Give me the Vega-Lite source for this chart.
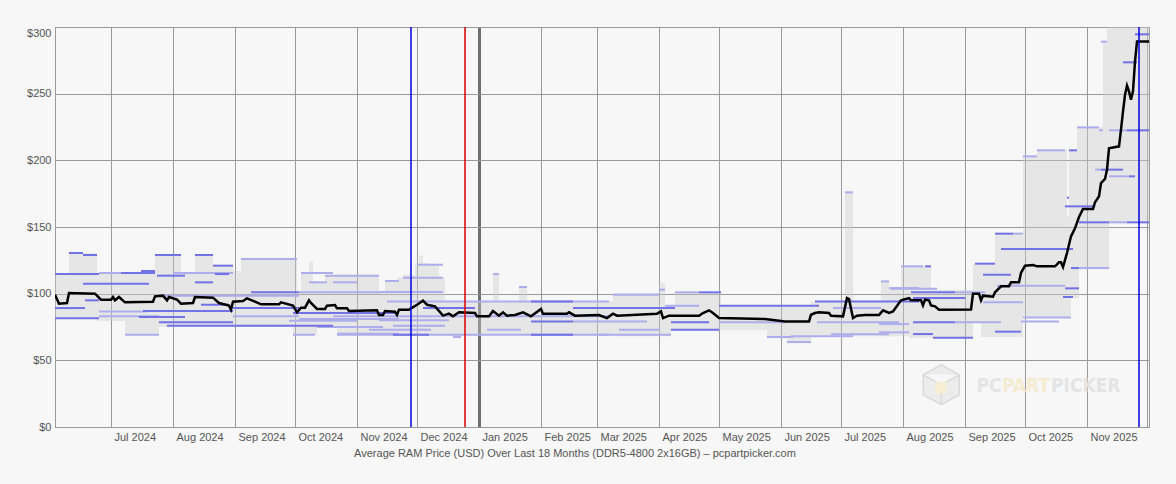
{
  "$schema": "https://vega.github.io/schema/vega-lite/v6.json",
  "width": 1094,
  "height": 400,
  "autosize": {"type": "none"},
  "padding": {"left": 55, "top": 27, "right": 27, "bottom": 57},
  "background": "#f7f7f7",
  "config": {
    "font": "Liberation Sans",
    "view": {"stroke": "#999999", "strokeWidth": 1},
    "axis": {"labelFont": "Liberation Sans", "titleFont": "Liberation Sans"},
    "axisX": {
      "titleFontSize": 11,
      "titleFontWeight": "normal",
      "titleColor": "#555555",
      "titleX": 519.5,
      "titleY": 29,
      "titleAlign": "center",
      "titleBaseline": "alphabetic",
      "format": "%b %Y",
      "formatType": "utc",
      "tickCount": {"interval": "month", "step": 1},
      "labelExpr": "utcyear(datum.value) == 2025 && utcmonth(datum.value) == 11 ? '' : datum.label",
      "labelAlign": "left",
      "labelBaseline": "top",
      "labelOffset": 3,
      "labelPadding": 4,
      "labelFontSize": 11,
      "labelColor": "#555555",
      "labelFlush": false,
      "labelOverlap": false,
      "ticks": false,
      "domainColor": "#999999",
      "grid": true,
      "gridColor": {"condition": {"test": "utcmonth(datum.value) == 0", "value": "#6e6e6e"}, "value": "#999999"},
      "gridWidth": {"condition": {"test": "utcmonth(datum.value) == 0", "value": 3}, "value": 1}
    },
    "axisY": {
      "format": "$.0f",
      "labelFontSize": 11,
      "labelColor": "#555555",
      "labelPadding": 4,
      "labelFlush": false,
      "labelBaseline": {"condition": {"test": "datum.value == 300", "value": "top"}, "value": "middle"},
      "ticks": false,
      "domainColor": "#999999",
      "grid": true,
      "gridColor": "#999999",
      "gridWidth": 1
    }
  },
  "datasets": {
    "range": [
      {"start": "2024-06-03", "end": "2024-06-10", "lo": 81, "hi": 115},
      {"start": "2024-06-10", "end": "2024-06-24", "lo": 81, "hi": 130.5},
      {"start": "2024-06-24", "end": "2024-07-08", "lo": 79.5, "hi": 115.5},
      {"start": "2024-07-08", "end": "2024-07-23", "lo": 69.2, "hi": 115.5},
      {"start": "2024-07-23", "end": "2024-07-25", "lo": 69.2, "hi": 129},
      {"start": "2024-07-25", "end": "2024-08-05", "lo": 75, "hi": 129},
      {"start": "2024-08-05", "end": "2024-08-12", "lo": 75, "hi": 115.5},
      {"start": "2024-08-12", "end": "2024-08-21", "lo": 75, "hi": 129},
      {"start": "2024-08-21", "end": "2024-08-31", "lo": 75, "hi": 121},
      {"start": "2024-08-31", "end": "2024-09-04", "lo": 75, "hi": 117},
      {"start": "2024-09-04", "end": "2024-09-30", "lo": 75, "hi": 126},
      {"start": "2024-09-30", "end": "2024-10-02", "lo": 69.2, "hi": 126},
      {"start": "2024-10-02", "end": "2024-10-04", "lo": 69.2, "hi": 101.7},
      {"start": "2024-10-04", "end": "2024-10-08", "lo": 69.2, "hi": 115.5},
      {"start": "2024-10-08", "end": "2024-10-10", "lo": 69.2, "hi": 124.2},
      {"start": "2024-10-10", "end": "2024-10-12", "lo": 69.2, "hi": 109},
      {"start": "2024-10-12", "end": "2024-10-16", "lo": 75, "hi": 109},
      {"start": "2024-10-16", "end": "2024-10-22", "lo": 75, "hi": 113.5},
      {"start": "2024-10-22", "end": "2024-11-12", "lo": 69.2, "hi": 113.5},
      {"start": "2024-11-12", "end": "2024-11-15", "lo": 69.2, "hi": 101.5},
      {"start": "2024-11-15", "end": "2024-11-21", "lo": 69.2, "hi": 109.2},
      {"start": "2024-11-21", "end": "2024-11-24", "lo": 69.2, "hi": 112.3},
      {"start": "2024-11-24", "end": "2024-11-30", "lo": 69.2, "hi": 114.2},
      {"start": "2024-11-30", "end": "2024-12-02", "lo": 69.2, "hi": 123},
      {"start": "2024-12-02", "end": "2024-12-04", "lo": 69.2, "hi": 128.5},
      {"start": "2024-12-04", "end": "2024-12-06", "lo": 69.2, "hi": 123},
      {"start": "2024-12-06", "end": "2024-12-12", "lo": 69.2, "hi": 121.7},
      {"start": "2024-12-12", "end": "2024-12-15", "lo": 69.2, "hi": 111.8},
      {"start": "2024-12-15", "end": "2024-12-19", "lo": 69.2, "hi": 94.5},
      {"start": "2024-12-19", "end": "2024-12-23", "lo": 67.5, "hi": 94.5},
      {"start": "2024-12-23", "end": "2025-01-08", "lo": 69.2, "hi": 94.5},
      {"start": "2025-01-08", "end": "2025-01-11", "lo": 69.2, "hi": 114.7},
      {"start": "2025-01-11", "end": "2025-01-21", "lo": 69.2, "hi": 94.5},
      {"start": "2025-01-21", "end": "2025-01-25", "lo": 69.2, "hi": 105.5},
      {"start": "2025-01-25", "end": "2025-03-09", "lo": 69.2, "hi": 94.5},
      {"start": "2025-03-09", "end": "2025-04-01", "lo": 68, "hi": 100.5},
      {"start": "2025-04-01", "end": "2025-04-04", "lo": 68, "hi": 108},
      {"start": "2025-04-04", "end": "2025-04-07", "lo": 68, "hi": 91},
      {"start": "2025-04-07", "end": "2025-04-09", "lo": 72.5, "hi": 91},
      {"start": "2025-04-09", "end": "2025-05-02", "lo": 72.5, "hi": 101},
      {"start": "2025-05-02", "end": "2025-05-25", "lo": 72.5, "hi": 91},
      {"start": "2025-05-25", "end": "2025-06-04", "lo": 66.7, "hi": 91},
      {"start": "2025-06-04", "end": "2025-06-16", "lo": 63.7, "hi": 91},
      {"start": "2025-06-16", "end": "2025-07-03", "lo": 68, "hi": 94.2},
      {"start": "2025-07-03", "end": "2025-07-07", "lo": 68, "hi": 176},
      {"start": "2025-07-07", "end": "2025-07-21", "lo": 68, "hi": 94.2},
      {"start": "2025-07-21", "end": "2025-07-25", "lo": 68, "hi": 109.2},
      {"start": "2025-07-25", "end": "2025-07-31", "lo": 68, "hi": 104.2},
      {"start": "2025-07-31", "end": "2025-08-04", "lo": 68, "hi": 120.5},
      {"start": "2025-08-04", "end": "2025-08-15", "lo": 66.7, "hi": 120.5},
      {"start": "2025-08-15", "end": "2025-09-05", "lo": 66.7, "hi": 103},
      {"start": "2025-09-05", "end": "2025-09-09", "lo": 79.2, "hi": 122.5},
      {"start": "2025-09-09", "end": "2025-09-16", "lo": 67.5, "hi": 122.5},
      {"start": "2025-09-16", "end": "2025-09-30", "lo": 67.5, "hi": 145.5},
      {"start": "2025-09-30", "end": "2025-10-07", "lo": 81.7, "hi": 203.5},
      {"start": "2025-10-07", "end": "2025-10-22", "lo": 81.7, "hi": 208},
      {"start": "2025-10-22", "end": "2025-10-23", "lo": 81.7, "hi": 158},
      {"start": "2025-10-23", "end": "2025-10-24", "lo": 81.7, "hi": 207.5},
      {"start": "2025-10-24", "end": "2025-10-27", "lo": 96.7, "hi": 207.5},
      {"start": "2025-10-27", "end": "2025-10-28", "lo": 96.7, "hi": 224.7},
      {"start": "2025-10-28", "end": "2025-11-09", "lo": 118.5, "hi": 224.7},
      {"start": "2025-11-09", "end": "2025-11-11", "lo": 118.5, "hi": 289},
      {"start": "2025-11-11", "end": "2025-11-12", "lo": 118.5, "hi": 300},
      {"start": "2025-11-12", "end": "2025-12-02", "lo": 153.5, "hi": 300}
    ],
    "offers": [
      {"start": "2024-06-25", "end": "2024-07-06", "price": 115.5, "group": "B"},
      {"start": "2024-08-01", "end": "2024-08-31", "price": 115.5, "group": "B"},
      {"start": "2024-09-04", "end": "2024-10-02", "price": 126, "group": "B"},
      {"start": "2024-10-04", "end": "2024-10-20", "price": 115.5, "group": "B"},
      {"start": "2024-10-08", "end": "2024-10-17", "price": 108.5, "group": "B"},
      {"start": "2024-10-16", "end": "2024-11-12", "price": 113.5, "group": "B"},
      {"start": "2024-10-20", "end": "2024-11-01", "price": 108.5, "group": "B"},
      {"start": "2024-11-15", "end": "2024-11-22", "price": 109.5, "group": "B"},
      {"start": "2024-10-03", "end": "2024-11-12", "price": 101, "group": "B"},
      {"start": "2024-07-24", "end": "2024-10-03", "price": 98.5, "group": "B"},
      {"start": "2024-06-25", "end": "2024-07-19", "price": 86.7, "group": "B"},
      {"start": "2024-06-25", "end": "2024-07-25", "price": 83, "group": "B"},
      {"start": "2024-07-08", "end": "2024-07-25", "price": 69.2, "group": "B"},
      {"start": "2024-08-31", "end": "2024-10-03", "price": 83, "group": "B"},
      {"start": "2024-09-30", "end": "2024-10-11", "price": 69.2, "group": "B"},
      {"start": "2024-10-22", "end": "2024-11-22", "price": 70, "group": "B"},
      {"start": "2024-10-03", "end": "2024-11-22", "price": 81, "group": "B"},
      {"start": "2024-10-12", "end": "2024-11-14", "price": 75, "group": "B"},
      {"start": "2024-11-24", "end": "2024-12-14", "price": 112, "group": "B"},
      {"start": "2024-12-01", "end": "2024-12-14", "price": 121.7, "group": "B"},
      {"start": "2025-01-08", "end": "2025-01-11", "price": 114.7, "group": "B"},
      {"start": "2025-01-21", "end": "2025-01-25", "price": 105, "group": "B"},
      {"start": "2024-11-12", "end": "2024-12-14", "price": 101.2, "group": "B"},
      {"start": "2024-11-16", "end": "2025-03-07", "price": 94.2, "group": "B"},
      {"start": "2024-10-20", "end": "2025-03-07", "price": 83, "group": "B"},
      {"start": "2024-09-28", "end": "2024-11-01", "price": 79.7, "group": "B"},
      {"start": "2024-11-07", "end": "2024-12-08", "price": 73, "group": "B"},
      {"start": "2024-11-19", "end": "2024-12-15", "price": 76, "group": "B"},
      {"start": "2024-10-22", "end": "2025-03-07", "price": 69.2, "group": "B"},
      {"start": "2025-01-05", "end": "2025-01-22", "price": 73, "group": "B"},
      {"start": "2024-11-12", "end": "2024-12-17", "price": 80, "group": "B"},
      {"start": "2024-12-19", "end": "2024-12-23", "price": 67.5, "group": "B"},
      {"start": "2025-02-17", "end": "2025-03-26", "price": 79.2, "group": "B"},
      {"start": "2025-03-09", "end": "2025-04-01", "price": 99.2, "group": "B"},
      {"start": "2025-04-09", "end": "2025-04-21", "price": 101, "group": "B"},
      {"start": "2025-04-01", "end": "2025-04-04", "price": 103, "group": "B"},
      {"start": "2025-04-04", "end": "2025-04-21", "price": 91, "group": "B"},
      {"start": "2025-03-12", "end": "2025-04-01", "price": 73, "group": "B"},
      {"start": "2025-03-02", "end": "2025-04-07", "price": 69.2, "group": "B"},
      {"start": "2025-05-01", "end": "2025-06-03", "price": 78.5, "group": "B"},
      {"start": "2025-05-25", "end": "2025-06-07", "price": 67.5, "group": "B"},
      {"start": "2025-06-04", "end": "2025-06-16", "price": 63.7, "group": "B"},
      {"start": "2025-06-06", "end": "2025-07-07", "price": 68, "group": "B"},
      {"start": "2025-06-19", "end": "2025-07-30", "price": 78.5, "group": "B"},
      {"start": "2025-06-26", "end": "2025-07-25", "price": 69.5, "group": "B"},
      {"start": "2025-06-27", "end": "2025-07-21", "price": 89.2, "group": "B"},
      {"start": "2025-07-03", "end": "2025-07-07", "price": 176, "group": "B"},
      {"start": "2025-07-21", "end": "2025-07-25", "price": 109.2, "group": "B"},
      {"start": "2025-07-25", "end": "2025-08-09", "price": 104.2, "group": "B"},
      {"start": "2025-07-31", "end": "2025-08-11", "price": 120.5, "group": "B"},
      {"start": "2025-08-27", "end": "2025-09-11", "price": 101, "group": "B"},
      {"start": "2025-07-26", "end": "2025-08-18", "price": 103.7, "group": "B"},
      {"start": "2025-09-10", "end": "2025-09-30", "price": 93.5, "group": "B"},
      {"start": "2025-09-17", "end": "2025-10-21", "price": 106, "group": "B"},
      {"start": "2025-09-30", "end": "2025-10-24", "price": 82.2, "group": "B"},
      {"start": "2025-07-20", "end": "2025-08-04", "price": 77.2, "group": "B"},
      {"start": "2025-08-27", "end": "2025-09-19", "price": 78.5, "group": "B"},
      {"start": "2025-07-20", "end": "2025-08-04", "price": 71, "group": "B"},
      {"start": "2025-09-29", "end": "2025-10-18", "price": 79.2, "group": "B"},
      {"start": "2025-09-25", "end": "2025-09-30", "price": 145, "group": "B"},
      {"start": "2025-09-30", "end": "2025-10-07", "price": 203, "group": "B"},
      {"start": "2025-10-07", "end": "2025-10-21", "price": 207.5, "group": "B"},
      {"start": "2025-10-28", "end": "2025-11-12", "price": 119.2, "group": "B"},
      {"start": "2025-11-12", "end": "2025-11-21", "price": 153.5, "group": "B"},
      {"start": "2025-10-27", "end": "2025-11-07", "price": 224.7, "group": "B"},
      {"start": "2025-11-07", "end": "2025-11-09", "price": 222.5, "group": "B"},
      {"start": "2025-11-12", "end": "2025-11-21", "price": 222.5, "group": "B"},
      {"start": "2025-11-08", "end": "2025-11-11", "price": 289, "group": "B"},
      {"start": "2025-11-05", "end": "2025-11-08", "price": 193, "group": "B"},
      {"start": "2025-11-12", "end": "2025-11-22", "price": 188, "group": "B"},
      {"start": "2024-06-03", "end": "2024-06-25", "price": 114.7, "group": "A"},
      {"start": "2024-06-10", "end": "2024-06-17", "price": 130.5, "group": "A"},
      {"start": "2024-06-17", "end": "2024-06-24", "price": 129, "group": "A"},
      {"start": "2024-07-06", "end": "2024-07-23", "price": 115.5, "group": "A"},
      {"start": "2024-07-16", "end": "2024-07-23", "price": 117, "group": "A"},
      {"start": "2024-07-23", "end": "2024-08-05", "price": 129, "group": "A"},
      {"start": "2024-08-12", "end": "2024-08-21", "price": 129, "group": "A"},
      {"start": "2024-08-21", "end": "2024-08-31", "price": 121, "group": "A"},
      {"start": "2024-06-17", "end": "2024-07-20", "price": 107.5, "group": "A"},
      {"start": "2024-07-24", "end": "2024-08-07", "price": 113.5, "group": "A"},
      {"start": "2024-08-12", "end": "2024-08-21", "price": 108.5, "group": "A"},
      {"start": "2024-08-22", "end": "2024-08-29", "price": 114.7, "group": "A"},
      {"start": "2024-09-09", "end": "2024-10-03", "price": 101, "group": "A"},
      {"start": "2024-06-18", "end": "2024-06-25", "price": 95, "group": "A"},
      {"start": "2024-06-03", "end": "2024-06-18", "price": 89.2, "group": "A"},
      {"start": "2024-07-17", "end": "2024-08-31", "price": 87, "group": "A"},
      {"start": "2024-08-15", "end": "2024-08-29", "price": 91.7, "group": "A"},
      {"start": "2024-08-31", "end": "2024-10-03", "price": 89.2, "group": "A"},
      {"start": "2024-09-30", "end": "2024-11-22", "price": 85.5, "group": "A"},
      {"start": "2024-06-03", "end": "2024-06-25", "price": 81.5, "group": "A"},
      {"start": "2024-07-15", "end": "2024-08-07", "price": 82.5, "group": "A"},
      {"start": "2024-07-25", "end": "2024-08-31", "price": 78.5, "group": "A"},
      {"start": "2024-07-29", "end": "2024-08-31", "price": 76, "group": "A"},
      {"start": "2024-08-31", "end": "2024-10-20", "price": 76, "group": "A"},
      {"start": "2025-01-27", "end": "2025-02-17", "price": 94.2, "group": "A"},
      {"start": "2024-12-04", "end": "2024-12-30", "price": 89.2, "group": "A"},
      {"start": "2025-02-17", "end": "2025-04-09", "price": 89.2, "group": "A"},
      {"start": "2024-11-19", "end": "2024-12-07", "price": 69.2, "group": "A"},
      {"start": "2025-01-27", "end": "2025-02-17", "price": 69.2, "group": "A"},
      {"start": "2025-01-27", "end": "2025-02-17", "price": 79.2, "group": "A"},
      {"start": "2025-04-21", "end": "2025-05-02", "price": 101, "group": "A"},
      {"start": "2025-05-01", "end": "2025-06-20", "price": 91, "group": "A"},
      {"start": "2025-06-18", "end": "2025-08-09", "price": 94.2, "group": "A"},
      {"start": "2025-04-07", "end": "2025-05-01", "price": 73, "group": "A"},
      {"start": "2025-04-07", "end": "2025-04-26", "price": 78.5, "group": "A"},
      {"start": "2025-08-12", "end": "2025-08-15", "price": 120.5, "group": "A"},
      {"start": "2025-08-05", "end": "2025-08-27", "price": 101, "group": "A"},
      {"start": "2025-08-06", "end": "2025-09-01", "price": 96.7, "group": "A"},
      {"start": "2025-10-21", "end": "2025-10-28", "price": 104, "group": "A"},
      {"start": "2025-10-20", "end": "2025-10-25", "price": 97.5, "group": "A"},
      {"start": "2025-08-06", "end": "2025-08-27", "price": 78.5, "group": "A"},
      {"start": "2025-08-06", "end": "2025-08-16", "price": 69.7, "group": "A"},
      {"start": "2025-08-16", "end": "2025-09-05", "price": 67, "group": "A"},
      {"start": "2025-09-16", "end": "2025-09-29", "price": 71.5, "group": "A"},
      {"start": "2025-09-06", "end": "2025-09-16", "price": 122.5, "group": "A"},
      {"start": "2025-09-10", "end": "2025-09-24", "price": 114.2, "group": "A"},
      {"start": "2025-09-16", "end": "2025-09-25", "price": 145, "group": "A"},
      {"start": "2025-09-19", "end": "2025-10-25", "price": 133.5, "group": "A"},
      {"start": "2025-10-23", "end": "2025-10-27", "price": 207.5, "group": "A"},
      {"start": "2025-10-22", "end": "2025-10-23", "price": 172, "group": "A"},
      {"start": "2025-10-21", "end": "2025-11-05", "price": 165.5, "group": "A"},
      {"start": "2025-10-24", "end": "2025-10-28", "price": 119.2, "group": "A"},
      {"start": "2025-10-28", "end": "2025-11-12", "price": 153.5, "group": "A"},
      {"start": "2025-11-21", "end": "2025-12-02", "price": 153.5, "group": "A"},
      {"start": "2025-11-21", "end": "2025-12-02", "price": 222.5, "group": "A"},
      {"start": "2025-11-19", "end": "2025-11-26", "price": 273.5, "group": "A"},
      {"start": "2025-11-25", "end": "2025-12-02", "price": 294.5, "group": "A"},
      {"start": "2025-11-08", "end": "2025-11-19", "price": 193, "group": "A"},
      {"start": "2025-11-22", "end": "2025-11-25", "price": 188, "group": "A"}
    ],
    "avg": [
      {"date": "2024-06-03", "price": 99.2},
      {"date": "2024-06-05", "price": 92.5},
      {"date": "2024-06-09", "price": 93},
      {"date": "2024-06-10", "price": 100.5},
      {"date": "2024-06-23", "price": 100},
      {"date": "2024-06-26", "price": 95.5},
      {"date": "2024-07-01", "price": 95.5},
      {"date": "2024-07-02", "price": 97.5},
      {"date": "2024-07-03", "price": 95},
      {"date": "2024-07-05", "price": 97.5},
      {"date": "2024-07-08", "price": 93.5},
      {"date": "2024-07-22", "price": 94},
      {"date": "2024-07-23", "price": 98},
      {"date": "2024-07-27", "price": 98.5},
      {"date": "2024-07-29", "price": 95},
      {"date": "2024-07-30", "price": 97.5},
      {"date": "2024-08-03", "price": 95.5},
      {"date": "2024-08-05", "price": 92.5},
      {"date": "2024-08-11", "price": 93},
      {"date": "2024-08-12", "price": 97.5},
      {"date": "2024-08-21", "price": 97},
      {"date": "2024-08-24", "price": 93},
      {"date": "2024-08-29", "price": 91},
      {"date": "2024-08-30", "price": 88},
      {"date": "2024-08-31", "price": 94},
      {"date": "2024-09-05", "price": 94.5},
      {"date": "2024-09-07", "price": 96.5},
      {"date": "2024-09-11", "price": 94},
      {"date": "2024-09-14", "price": 92},
      {"date": "2024-09-23", "price": 92},
      {"date": "2024-09-24", "price": 93.5},
      {"date": "2024-09-30", "price": 91},
      {"date": "2024-10-02", "price": 86},
      {"date": "2024-10-04", "price": 89.5},
      {"date": "2024-10-06", "price": 89.5},
      {"date": "2024-10-08", "price": 95},
      {"date": "2024-10-09", "price": 93},
      {"date": "2024-10-12", "price": 88.5},
      {"date": "2024-10-16", "price": 88.5},
      {"date": "2024-10-17", "price": 91},
      {"date": "2024-10-21", "price": 91.5},
      {"date": "2024-10-22", "price": 89},
      {"date": "2024-10-27", "price": 89},
      {"date": "2024-10-28", "price": 87},
      {"date": "2024-11-11", "price": 87.5},
      {"date": "2024-11-12", "price": 84},
      {"date": "2024-11-14", "price": 84},
      {"date": "2024-11-15", "price": 87},
      {"date": "2024-11-20", "price": 86.5},
      {"date": "2024-11-21", "price": 84},
      {"date": "2024-11-22", "price": 88},
      {"date": "2024-11-27", "price": 88},
      {"date": "2024-12-01", "price": 91.7},
      {"date": "2024-12-04", "price": 94.7},
      {"date": "2024-12-06", "price": 91.7},
      {"date": "2024-12-10", "price": 90.5},
      {"date": "2024-12-14", "price": 83.5},
      {"date": "2024-12-17", "price": 85},
      {"date": "2024-12-19", "price": 83},
      {"date": "2024-12-22", "price": 86},
      {"date": "2024-12-30", "price": 85.5},
      {"date": "2024-12-31", "price": 83},
      {"date": "2025-01-06", "price": 83},
      {"date": "2025-01-08", "price": 87},
      {"date": "2025-01-11", "price": 83.5},
      {"date": "2025-01-13", "price": 86},
      {"date": "2025-01-15", "price": 83.5},
      {"date": "2025-01-19", "price": 84},
      {"date": "2025-01-23", "price": 86},
      {"date": "2025-01-27", "price": 83},
      {"date": "2025-02-01", "price": 88.5},
      {"date": "2025-02-02", "price": 85},
      {"date": "2025-02-14", "price": 85},
      {"date": "2025-02-15", "price": 86},
      {"date": "2025-02-18", "price": 83.5},
      {"date": "2025-03-02", "price": 84},
      {"date": "2025-03-06", "price": 81.7},
      {"date": "2025-03-09", "price": 85},
      {"date": "2025-03-11", "price": 83.5},
      {"date": "2025-03-31", "price": 85},
      {"date": "2025-04-02", "price": 86.7},
      {"date": "2025-04-03", "price": 81.7},
      {"date": "2025-04-06", "price": 83.5},
      {"date": "2025-04-21", "price": 83.5},
      {"date": "2025-04-23", "price": 85.5},
      {"date": "2025-04-26", "price": 87.5},
      {"date": "2025-04-28", "price": 85.5},
      {"date": "2025-05-01", "price": 81.7},
      {"date": "2025-05-24", "price": 81},
      {"date": "2025-06-03", "price": 79.2},
      {"date": "2025-06-15", "price": 79.2},
      {"date": "2025-06-16", "price": 84.2},
      {"date": "2025-06-18", "price": 85.5},
      {"date": "2025-06-20", "price": 86},
      {"date": "2025-06-25", "price": 85.5},
      {"date": "2025-06-26", "price": 83.5},
      {"date": "2025-07-02", "price": 83},
      {"date": "2025-07-04", "price": 96.7},
      {"date": "2025-07-05", "price": 96},
      {"date": "2025-07-07", "price": 81.7},
      {"date": "2025-07-09", "price": 83.5},
      {"date": "2025-07-13", "price": 84},
      {"date": "2025-07-20", "price": 84},
      {"date": "2025-07-22", "price": 87.5},
      {"date": "2025-07-25", "price": 85.5},
      {"date": "2025-07-27", "price": 86.7},
      {"date": "2025-07-31", "price": 95},
      {"date": "2025-08-04", "price": 96.7},
      {"date": "2025-08-05", "price": 95},
      {"date": "2025-08-10", "price": 95},
      {"date": "2025-08-11", "price": 91.2},
      {"date": "2025-08-12", "price": 95.5},
      {"date": "2025-08-14", "price": 95},
      {"date": "2025-08-15", "price": 91.2},
      {"date": "2025-08-17", "price": 90.5},
      {"date": "2025-08-19", "price": 88},
      {"date": "2025-09-04", "price": 88.2},
      {"date": "2025-09-05", "price": 100},
      {"date": "2025-09-08", "price": 100},
      {"date": "2025-09-09", "price": 95},
      {"date": "2025-09-10", "price": 98.5},
      {"date": "2025-09-15", "price": 97.7},
      {"date": "2025-09-16", "price": 101},
      {"date": "2025-09-19", "price": 105.5},
      {"date": "2025-09-23", "price": 105.5},
      {"date": "2025-09-24", "price": 108.5},
      {"date": "2025-09-28", "price": 108.5},
      {"date": "2025-09-29", "price": 115.5},
      {"date": "2025-10-01", "price": 121},
      {"date": "2025-10-05", "price": 121.5},
      {"date": "2025-10-07", "price": 120.5},
      {"date": "2025-10-16", "price": 120.5},
      {"date": "2025-10-18", "price": 123.5},
      {"date": "2025-10-19", "price": 123.5},
      {"date": "2025-10-20", "price": 120},
      {"date": "2025-10-22", "price": 130.5},
      {"date": "2025-10-24", "price": 143},
      {"date": "2025-10-26", "price": 149},
      {"date": "2025-10-28", "price": 157.5},
      {"date": "2025-10-30", "price": 163.5},
      {"date": "2025-11-04", "price": 163.5},
      {"date": "2025-11-05", "price": 168.5},
      {"date": "2025-11-07", "price": 173},
      {"date": "2025-11-08", "price": 183},
      {"date": "2025-11-10", "price": 186},
      {"date": "2025-11-11", "price": 193},
      {"date": "2025-11-12", "price": 209},
      {"date": "2025-11-17", "price": 210.5},
      {"date": "2025-11-18", "price": 223},
      {"date": "2025-11-19", "price": 236.7},
      {"date": "2025-11-20", "price": 249},
      {"date": "2025-11-21", "price": 256},
      {"date": "2025-11-22", "price": 251.7},
      {"date": "2025-11-23", "price": 245.5},
      {"date": "2025-11-24", "price": 252},
      {"date": "2025-11-25", "price": 274},
      {"date": "2025-11-26", "price": 289.2},
      {"date": "2025-12-02", "price": 289.2}
    ],
    "events": [
      {"date": "2024-11-28", "holiday": "Thanksgiving"},
      {"date": "2024-12-25", "holiday": "Christmas"},
      {"date": "2025-11-27", "holiday": "Thanksgiving"}
    ]
  },
  "resolve": {"scale": {"color": "independent"}},
  "layer": [
    {
      "data": {"name": "range"},
      "mark": {"type": "rect", "color": "#cccccc", "opacity": 0.4, "clip": true},
      "encoding": {
        "x": {
          "field": "start",
          "type": "temporal",
          "title": "Average RAM Price (USD) Over Last 18 Months (DDR5-4800 2x16GB) – pcpartpicker.com",
          "scale": {
            "type": "utc",
            "domain": [
              {"year": 2024, "month": 6, "date": 3, "utc": true},
              {"year": 2025, "month": 12, "date": 2, "utc": true}
            ]
          }
        },
        "x2": {"field": "end"},
        "y": {
          "field": "lo",
          "type": "quantitative",
          "title": null,
          "scale": {"domain": [0, 300], "nice": false},
          "axis": {"values": [0, 50, 100, 150, 200, 250, 300]}
        },
        "y2": {"field": "hi"}
      }
    },
    {
      "data": {"values": [{"logo": "cube"}]},
      "mark": {
        "type": "point",
        "shape": "M0,-1L0.9,-0.5L0.9,0.5L0,1L-0.9,0.5L-0.9,-0.5Z M-0.9,-0.5L0,0L0.9,-0.5 M0,0L0,1",
        "size": 1600,
        "filled": true,
        "fill": "#ececec",
        "stroke": "#dadada",
        "strokeWidth": 1.5,
        "opacity": 1
      },
      "encoding": {
        "x": {"datum": {"year": 2025, "month": 8, "date": 20, "hours": 3, "utc": true}, "type": "temporal"},
        "y": {"datum": 31.7, "type": "quantitative", "axis": {"values": [0, 50, 100, 150, 200, 250, 300]}}
      }
    },
    {
      "data": {"values": [{"logo": "face"}]},
      "mark": {"type": "point", "shape": "square", "size": 130, "filled": true, "color": "#f6eed4", "opacity": 1},
      "encoding": {
        "x": {"datum": {"year": 2025, "month": 8, "date": 20, "utc": true}, "type": "temporal"},
        "y": {"datum": 29.5, "type": "quantitative", "axis": {"values": [0, 50, 100, 150, 200, 250, 300]}}
      }
    },
    {
      "data": {"values": [{"word": "PC"}]},
      "mark": {"type": "text", "align": "right", "baseline": "middle", "font": "DejaVu Sans Condensed", "fontWeight": "bold", "fontSize": 19, "color": "#e4e4e4"},
      "encoding": {
        "x": {"datum": {"year": 2025, "month": 9, "date": 19, "hours": 8, "utc": true}, "type": "temporal"},
        "y": {"datum": 30.4, "type": "quantitative", "axis": {"values": [0, 50, 100, 150, 200, 250, 300]}},
        "text": {"field": "word"}
      }
    },
    {
      "data": {"values": [{"word": "PART"}]},
      "mark": {"type": "text", "align": "left", "baseline": "middle", "font": "DejaVu Sans Condensed", "fontWeight": "bold", "fontSize": 19, "color": "#f4ecd2"},
      "encoding": {
        "x": {"datum": {"year": 2025, "month": 9, "date": 19, "hours": 12, "utc": true}, "type": "temporal"},
        "y": {"datum": 30.4, "type": "quantitative", "axis": {"values": [0, 50, 100, 150, 200, 250, 300]}},
        "text": {"field": "word"}
      }
    },
    {
      "data": {"values": [{"word": "PICKER"}]},
      "mark": {"type": "text", "align": "left", "baseline": "middle", "font": "DejaVu Sans Condensed", "fontWeight": "bold", "fontSize": 19, "color": "#e4e4e4"},
      "encoding": {
        "x": {"datum": {"year": 2025, "month": 10, "date": 14, "utc": true}, "type": "temporal"},
        "y": {"datum": 30.4, "type": "quantitative", "axis": {"values": [0, 50, 100, 150, 200, 250, 300]}},
        "text": {"field": "word"}
      }
    },
    {
      "data": {"name": "offers"},
      "mark": {"type": "rule", "strokeWidth": 2, "strokeCap": "butt", "clip": true},
      "encoding": {
        "x": {"field": "start", "type": "temporal", "title": "Average RAM Price (USD) Over Last 18 Months (DDR5-4800 2x16GB) – pcpartpicker.com"},
        "x2": {"field": "end"},
        "y": {"field": "price", "type": "quantitative", "title": null, "axis": {"values": [0, 50, 100, 150, 200, 250, 300]}},
        "color": {
          "field": "group",
          "type": "nominal",
          "scale": {"domain": ["A", "B"], "range": ["#7272e6", "#adadeb"]},
          "legend": null
        }
      }
    },
    {
      "data": {"name": "avg"},
      "mark": {"type": "line", "color": "#000000", "strokeWidth": 2.5, "clip": true},
      "encoding": {
        "x": {"field": "date", "type": "temporal", "title": "Average RAM Price (USD) Over Last 18 Months (DDR5-4800 2x16GB) – pcpartpicker.com"},
        "y": {"field": "price", "type": "quantitative", "title": null, "axis": {"values": [0, 50, 100, 150, 200, 250, 300]}}
      }
    },
    {
      "data": {"name": "events"},
      "mark": {"type": "rule", "strokeWidth": 1.5},
      "encoding": {
        "x": {"field": "date", "type": "temporal", "title": "Average RAM Price (USD) Over Last 18 Months (DDR5-4800 2x16GB) – pcpartpicker.com"},
        "color": {
          "field": "holiday",
          "type": "nominal",
          "scale": {"domain": ["Thanksgiving", "Christmas"], "range": ["#0000dd", "#dd0000"]},
          "legend": null
        }
      }
    }
  ]
}
